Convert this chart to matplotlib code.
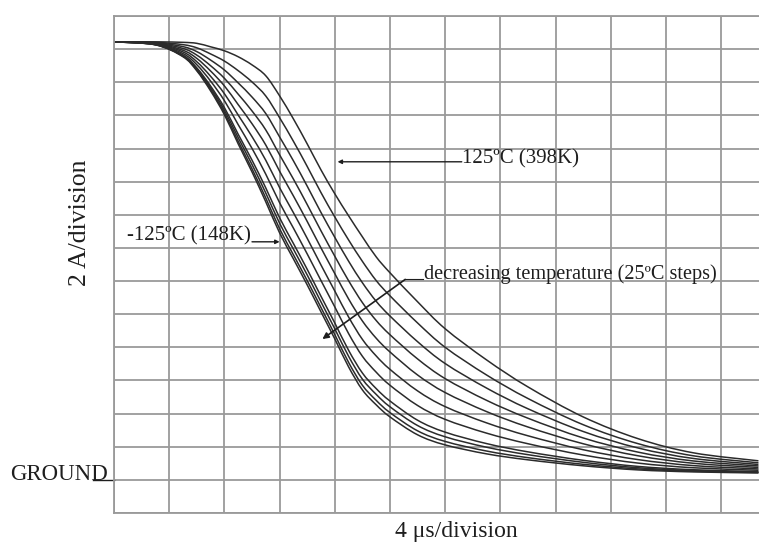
import matplotlib
matplotlib.use("Agg")
import matplotlib.pyplot as plt
from matplotlib.path import Path
from matplotlib.patches import PathPatch

# time axis in microseconds (4 us per division)
t_us = [0, 3, 5, 6, 7, 8, 9, 10, 11, 12, 13, 14, 15, 16, 17, 18, 19, 20,
        22, 24, 27, 30, 34, 38, 42, 46.7]

# current above ground in amps (2 A per division), one curve per temperature
temps_c = [-125, -100, -75, -50, -25, 0, 25, 50, 75, 100, 125]

i_m125 = [26.44, 26.26, 25.54, 24.69, 23.48, 22.04, 20.28, 18.59, 16.78, 14.91, 13.34, 11.77, 10.14,
          8.51, 6.82, 5.43, 4.53, 3.80, 2.72, 2.11, 1.57, 1.21, 0.85, 0.60, 0.48, 0.42]
i_m100 = [26.44, 26.27, 25.57, 24.74, 23.56, 22.16, 20.44, 18.78, 17.01, 15.16, 13.59, 12.03, 10.40,
          8.77, 7.09, 5.71, 4.80, 4.06, 2.96, 2.32, 1.74, 1.34, 0.94, 0.66, 0.52, 0.44]
i_m75 = [26.44, 26.27, 25.60, 24.81, 23.67, 22.31, 20.65, 19.04, 17.31, 15.49, 13.93, 12.37, 10.74,
         9.12, 7.46, 6.08, 5.16, 4.41, 3.28, 2.60, 1.97, 1.52, 1.06, 0.73, 0.56, 0.47]
i_m50 = [26.44, 26.28, 25.64, 24.87, 23.77, 22.47, 20.86, 19.30, 17.62, 15.82, 14.27, 12.71, 11.08,
         9.47, 7.82, 6.45, 5.51, 4.76, 3.60, 2.88, 2.19, 1.69, 1.18, 0.81, 0.61, 0.50]
i_m25 = [26.44, 26.30, 25.73, 25.06, 24.07, 22.89, 21.44, 20.01, 18.45, 16.73, 15.20, 13.64, 12.03,
         10.44, 8.83, 7.46, 6.50, 5.71, 4.49, 3.65, 2.82, 2.18, 1.50, 1.01, 0.73, 0.58]
i_0 = [26.44, 26.32, 25.83, 25.24, 24.36, 23.31, 22.02, 20.72, 19.29, 17.64, 16.13, 14.58, 12.97,
       11.40, 9.83, 8.48, 7.48, 6.67, 5.37, 4.42, 3.44, 2.66, 1.82, 1.22, 0.86, 0.66]
i_25 = [26.44, 26.34, 25.93, 25.44, 24.68, 23.78, 22.65, 21.50, 20.21, 18.63, 17.14, 15.60, 14.00,
        12.45, 10.92, 9.59, 8.55, 7.72, 6.33, 5.27, 4.12, 3.19, 2.18, 1.45, 1.00, 0.75]
i_50 = [26.44, 26.36, 26.04, 25.64, 25.00, 24.24, 23.28, 22.27, 21.12, 19.62, 18.16, 16.62, 15.03,
        13.50, 12.02, 10.70, 9.62, 8.76, 7.30, 6.11, 4.80, 3.72, 2.53, 1.67, 1.14, 0.84]
i_75 = [26.44, 26.39, 26.15, 25.85, 25.34, 24.74, 23.96, 23.11, 22.11, 20.70, 19.26, 17.73, 16.14,
        14.64, 13.20, 11.90, 10.78, 9.89, 8.34, 7.02, 5.54, 4.29, 2.92, 1.92, 1.29, 0.93]
i_100 = [26.44, 26.41, 26.27, 26.08, 25.71, 25.28, 24.70, 24.02, 23.17, 21.86, 20.44, 18.92, 17.34,
         15.87, 14.48, 13.19, 12.03, 11.11, 9.47, 8.00, 6.33, 4.91, 3.33, 2.18, 1.45, 1.03]
i_125 = [26.44, 26.44, 26.41, 26.35, 26.14, 25.90, 25.54, 25.05, 24.39, 23.18, 21.79, 20.28, 18.71,
         17.27, 15.94, 14.67, 13.46, 12.50, 10.75, 9.12, 7.24, 5.61, 3.80, 2.48, 1.63, 1.15]

curves = [i_m125, i_m100, i_m75, i_m50, i_m25, i_0, i_25, i_50, i_75, i_100, i_125]


def smooth_path(xs, ys):
    # catmull-rom through the read points, drawn as bezier segments
    pts = list(zip(xs, ys))
    n = len(pts)
    verts = [pts[0]]
    codes = [Path.MOVETO]
    for i in range(n - 1):
        p0 = pts[i - 1] if i > 0 else pts[i]
        p1 = pts[i]
        p2 = pts[i + 1]
        p3 = pts[i + 2] if i + 2 < n else pts[i + 1]
        c1 = (p1[0] + (p2[0] - p0[0]) / 6, p1[1] + (p2[1] - p0[1]) / 6)
        c2 = (p2[0] - (p3[0] - p1[0]) / 6, p2[1] - (p3[1] - p1[1]) / 6)
        verts += [c1, c2, p2]
        codes += [Path.CURVE4] * 3
    return Path(verts, codes)


plt.rcParams['font.family'] = ['Liberation Serif', 'DejaVu Serif']
ink = '#1e1e1e'

fig = plt.figure(figsize=(7.59, 5.43), dpi=100)
ax = fig.add_axes([114 / 759, 30 / 543, 645 / 759, 497 / 543])

for c in curves:
    ax.add_patch(PathPatch(smooth_path(t_us, c), facecolor='none', edgecolor='#2b2b2b',
                           lw=1.1, joinstyle='round'))

ax.set_xlim(0, 46.74)
ax.set_ylim(-2, 28)
ax.set_xticks(range(0, 47, 4))
ax.set_yticks(range(-2, 29, 2))
ax.grid(True, color='#9a9a9a', lw=1.3)
ax.tick_params(length=0, labelbottom=False, labelleft=False)
for side in ['left', 'top', 'bottom']:
    ax.spines[side].set_color('#9a9a9a')
    ax.spines[side].set_linewidth(1.3)
ax.spines['right'].set_visible(False)
ax.set_axisbelow(True)

# annotations
ax.annotate('', xy=(16.2, 19.2), xytext=(25.2, 19.2),
            arrowprops=dict(arrowstyle='-|>', color=ink, lw=1.0, mutation_scale=6,
                            shrinkA=0, shrinkB=0))
ax.text(25.2, 19.4, '125ºC (398K)', ha='left', va='center', fontsize=15, color=ink)

ax.annotate('', xy=(12.0, 14.37), xytext=(10.0, 14.37),
            arrowprops=dict(arrowstyle='-|>', color=ink, lw=1.0, mutation_scale=6,
                            shrinkA=0, shrinkB=0))
ax.text(9.9, 14.7, '-125ºC (148K)', ha='right', va='center', fontsize=15, color=ink)

ax.annotate('', xy=(15.1, 8.5), xytext=(21.1, 12.1),
            arrowprops=dict(arrowstyle='-|>', color=ink, lw=1.2, mutation_scale=9,
                            shrinkA=0, shrinkB=0))
ax.plot([21.1, 22.4], [12.1, 12.1], color=ink, lw=0.8)
ax.text(22.5, 12.4, 'decreasing temperature (25ºC steps)', ha='left', va='center',
        fontsize=14.6, color=ink)

ax.text(-7.5, 0, 'GROUND', ha='left', va='baseline', fontsize=16.5, color=ink, clip_on=False)
ax.plot([-1.5, 0], [0, 0], color=ink, lw=1.0, clip_on=False)

fig.text(80 / 759, 1 - 223 / 543, '2 A/division', rotation=90, ha='center', va='center',
         fontsize=18.5, color=ink)
fig.text(456 / 759, 1 / 543, '4 μs/division', ha='center', va='bottom', fontsize=17, color=ink)

fig.savefig('out.png', dpi=100)
